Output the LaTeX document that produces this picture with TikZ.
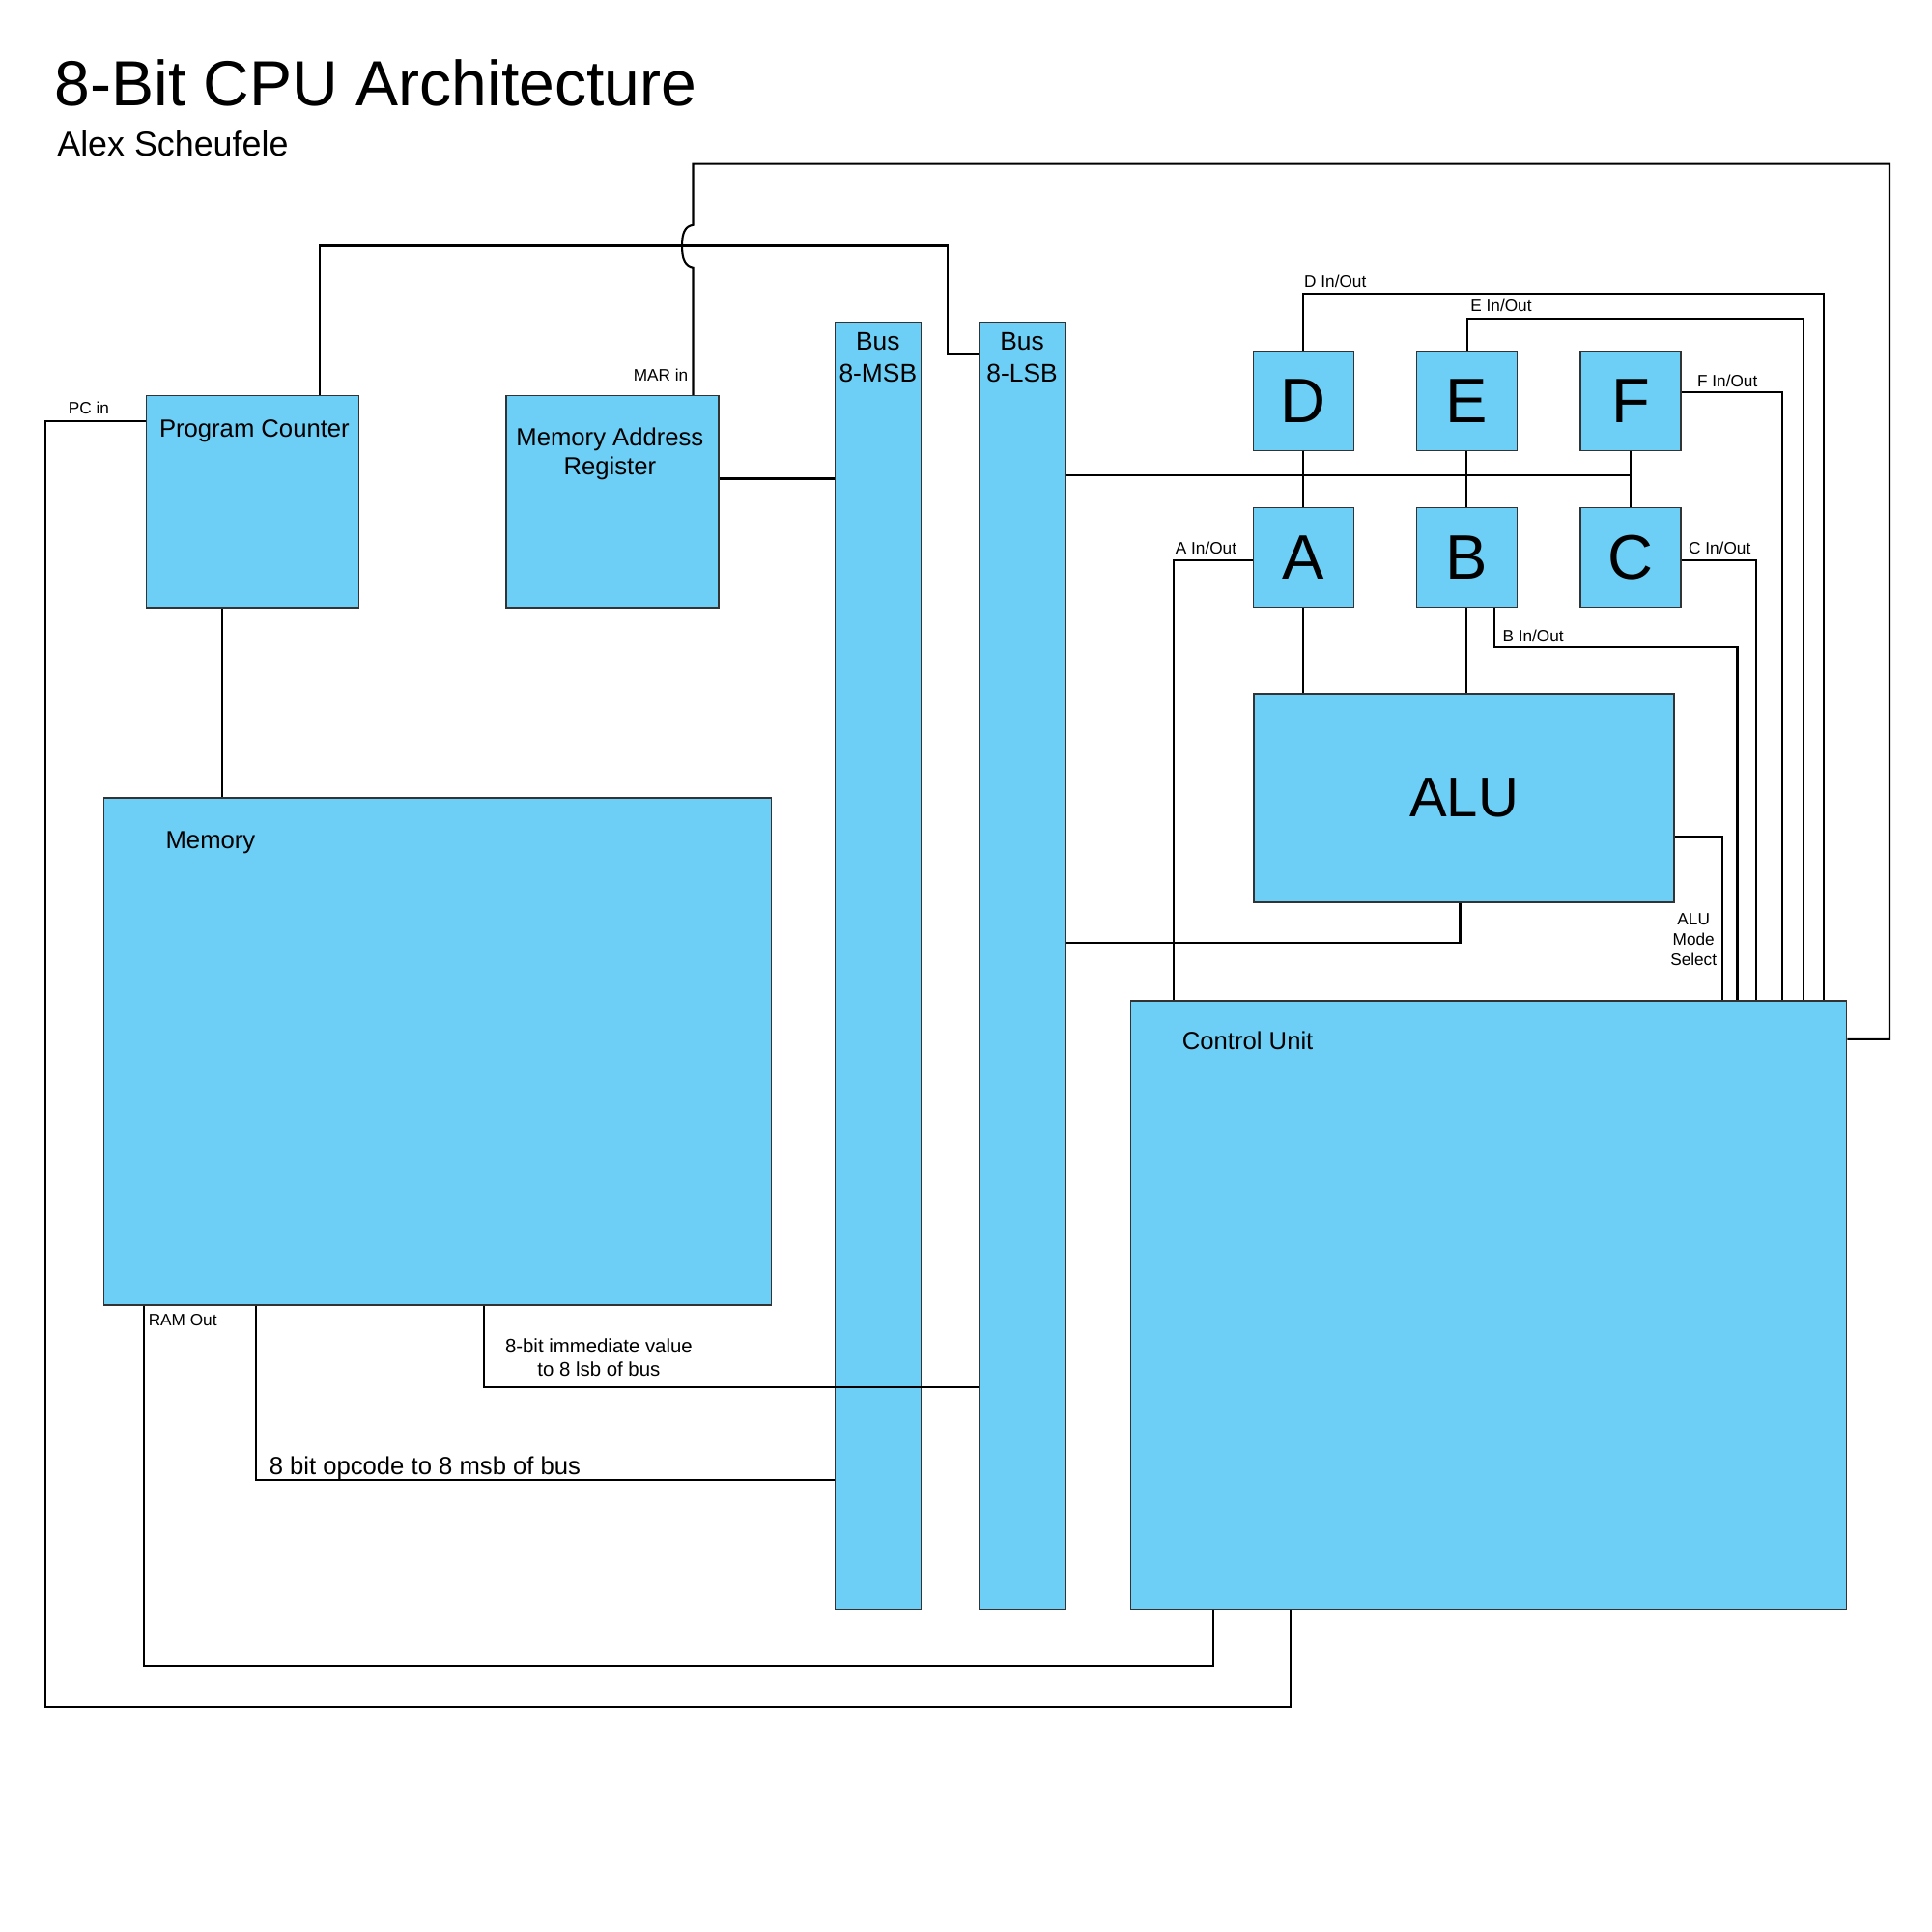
\documentclass[tikz,border=0pt]{standalone}
\usepackage{fontspec}
\setmainfont{Liberation Sans}
\usepackage{xcolor}
\usepackage{tikz}
\definecolor{cpublue}{RGB}{109,207,245}
\newdimen\pxu \pxu=0.012755cm
\tikzstyle{unit}=[rectangle, draw=black!80, line width=0.45pt, fill=cpublue,
  anchor=north west, inner sep=0pt]
\tikzstyle{reg}=[unit, minimum width=81.5*\pxu, minimum height=80.5*\pxu,
  font=\fontsize{18.5}{20}\selectfont]
\tikzstyle{busbar}=[unit, minimum width=70*\pxu, minimum height=1045*\pxu]
\tikzstyle{boxlabel}=[inner sep=0pt, align=center, font=\fontsize{7.3}{8.7}\selectfont]
\tikzstyle{tag}=[inner sep=0pt, align=center, font=\fontsize{4.9}{5.9}\selectfont]
\tikzstyle{wire}=[line width=0.6pt, black]

\begin{document}
\begin{tikzpicture}[x=0.012755cm, y=-0.012755cm]
    \useasboundingbox (0,0) rectangle (1568,1568);

    % Heading
    \node[inner sep=0pt, anchor=base west, font=\fontsize{18.8}{22}\selectfont] (title) at (44,86) {8-Bit CPU Architecture};
    \node[inner sep=0pt, anchor=base west, font=\fontsize{10.2}{12}\selectfont] (author) at (46,126.7) {Alex Scheufele};

    % Left column: program counter, MAR, memory
    \node[unit, minimum width=172.5*\pxu, minimum height=172*\pxu] (pc) at (118,320.5) {};
    \node[unit, minimum width=172.5*\pxu, minimum height=172*\pxu] (mar) at (410,320.5) {};
    \node[unit, minimum width=542*\pxu, minimum height=411.5*\pxu] (mem) at (83.5,647) {};
    \node[boxlabel, anchor=base] (pcname) at (206.5,355) {Program Counter};
    \node[boxlabel, anchor=north] (marname) at (495,346.5) {Memory Address\\Register};
    \node[boxlabel, anchor=base west] (memname) at (134,688.6) {Memory};

    % The two halves of the bus
    \node[busbar] (msb) at (677,261) {};
    \node[busbar] (lsb) at (794.5,261) {};
    \node[boxlabel, anchor=north, font=\fontsize{7.5}{9.4}\selectfont] (msbname) at (712.5,269.7) {Bus\\8-MSB};
    \node[boxlabel, anchor=north, font=\fontsize{7.5}{9.4}\selectfont] (lsbname) at (829.5,269.7) {Bus\\8-LSB};

    % Registers, ALU and control unit
    \node[reg] (regD) at (1016.5,284.5) {D};
    \node[reg] (regE) at (1149,284.5) {E};
    \node[reg] (regF) at (1282,284.5) {F};
    \node[reg] (regA) at (1016.5,411.5) {A};
    \node[reg] (regB) at (1149,411.5) {B};
    \node[reg] (regC) at (1282,411.5) {C};
    \node[unit, minimum width=341*\pxu, minimum height=169*\pxu,
      font=\fontsize{16.5}{18}\selectfont] (alu) at (1017,562.5) {ALU};
    \node[unit, minimum width=581*\pxu, minimum height=494.5*\pxu] (cu) at (917,811.5) {};
    \node[boxlabel, anchor=base west] (cuname) at (959,851.5) {Control Unit};

    % Signal names
    \node[tag, anchor=base west] (pcin) at (55,336) {PC in};
    \node[tag, anchor=base east] (marin) at (559,309) {MAR in};
    \node[tag, anchor=base west] (ramout) at (120,1076) {RAM Out};
    \node[tag, anchor=base west] (dio) at (1058,233) {D In/Out};
    \node[tag, anchor=base west] (eio) at (1193,253) {E In/Out};
    \node[tag, anchor=base west] (fio) at (1377,314) {F In/Out};
    \node[tag, anchor=base west] (aio) at (953.5,450) {A In/Out};
    \node[tag, anchor=base west] (cio) at (1370,450) {C In/Out};
    \node[tag, anchor=base west] (bio) at (1219,521) {B In/Out};
    \node[tag, anchor=north] (modesel) at (1374.5,741) {ALU\\Mode\\Select};
    \node[tag, anchor=north, font=\fontsize{5.8}{6.85}\selectfont] (immname) at (486,1086) {8-bit immediate value\\to 8 lsb of bus};
    \node[boxlabel, anchor=base west] (opname) at (218,1197) {8 bit opcode to 8 msb of bus};

    % Wires
    \draw[wire] (pc.north -| 259.5,0) |- (769,199.5) |- (lsb.west |- 0,287);
    \draw[wire] (mar.north -| 562.5,0) -- (562.5,217)
      .. controls (556,216) and (553.5,210) .. (553.5,199.5)
      .. controls (553.5,189) and (556,183.5) .. (562.5,182.5)
      -- (562.5,133) -| (1533.5,843.5) -- (cu.east |- 0,843.5);
    \draw[wire] (mar.east |- 0,388.5) -- (msb.west |- 0,388.5);
    \draw[wire] (pc.west |- 0,342) -| (37,1385) -| (cu.south -| 1047.5,0);
    \draw[wire] (pc.south -| 180.5,0) -- (mem.north -| 180.5,0);
    \draw[wire] (mem.south -| 117,0) |- (985,1352.5) -- (cu.south -| 985,0);
    \draw[wire] (mem.south -| 208,0) |- (msb.west |- 0,1201);
    \draw[wire] (mem.south -| 392.5,0) |- (lsb.west |- 0,1126);
    \draw[wire] (lsb.east |- 0,386) -- (regF |- 0,386);
    \draw[wire] (regD) -- (regA);
    \draw[wire] (regE) -- (regB);
    \draw[wire] (regF) -- (regC);
    \draw[wire] (regA.south) -- (alu.north -| regA.south);
    \draw[wire] (regB.south) -- (alu.north -| regB.south);
    \draw[wire] (alu.south -| 1185,0) |- (lsb.east |- 0,765);
    \draw[wire] (regA.west |- 0,455) -| (cu.north -| 952.5,0);
    \draw[wire] (regD.north) |- (1480.5,238) -- (cu.north -| 1480.5,0);
    \draw[wire] (regE.north -| 1191,0) |- (1463.5,258.5) -- (cu.north -| 1463.5,0);
    \draw[wire] (regF.east |- 0,318.5) -| (cu.north -| 1446.5,0);
    \draw[wire] (regC.east |- 0,455) -| (cu.north -| 1425.5,0);
    \draw[wire] (regB.south -| 1213,0) |- (1410,525) -- (cu.north -| 1410,0);
    \draw[wire] (alu.east |- 0,679) -| (cu.north -| 1398,0);

  \end{tikzpicture}
\end{document}
